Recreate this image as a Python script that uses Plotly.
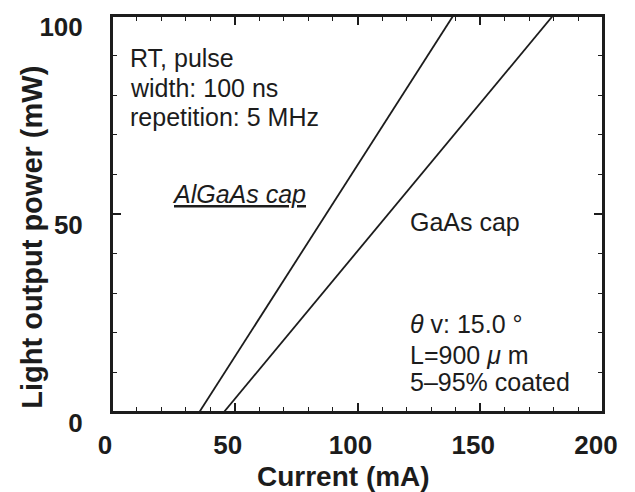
import plotly.graph_objects as go

# ---- data ----
algaas_current = [35.6, 138.9]   # mA
algaas_power = [0, 100]          # mW
gaas_current = [45.6, 179.5]     # mA
gaas_power = [0, 100]            # mW

x_ticks = [0, 50, 100, 150, 200]
y_ticks = [0, 50, 100]

cond_lines = ["RT, pulse", "width: 100 ns", "repetition: 5 MHz"]
device_lines = ["<i>θ</i> v: 15.0 °", "L=900 <i>μ</i> m", "5–95% coated"]

FONT = "Liberation Sans"
INK = "#1c1c1c"

fig = go.Figure()
fig.add_trace(go.Scatter(x=algaas_current, y=algaas_power, mode="lines",
                         line=dict(color=INK, width=1.8), name="AlGaAs cap",
                         showlegend=False))
fig.add_trace(go.Scatter(x=gaas_current, y=gaas_power, mode="lines",
                         line=dict(color=INK, width=1.8), name="GaAs cap",
                         showlegend=False))

ann = []
cond_y = [89.4, 81.9, 74.4]
for t, yy in zip(cond_lines, cond_y):
    ann.append(dict(x=6.5, y=yy, xref="x", yref="y", text=t, showarrow=False,
                    xanchor="left", yanchor="middle",
                    font=dict(family=FONT, size=25, color=INK)))
dev_y = [22.3, 14.5, 7.5]
for t, yy in zip(device_lines, dev_y):
    ann.append(dict(x=120.6, y=yy, xref="x", yref="y", text=t, showarrow=False,
                    xanchor="left", yanchor="middle",
                    font=dict(family=FONT, size=25, color=INK)))
ann.append(dict(x=23.6, y=55, xref="x", yref="y", text="<u><i>AlGaAs cap</i></u>",
                showarrow=False, xanchor="left", yanchor="middle",
                font=dict(family=FONT, size=25, color=INK)))
ann.append(dict(x=120.6, y=48.1, xref="x", yref="y", text="GaAs cap",
                showarrow=False, xanchor="left", yanchor="middle",
                font=dict(family=FONT, size=25, color=INK)))
# axis titles
ann.append(dict(x=-0.163, y=0.4425, xref="paper", yref="paper",
                text="Light output power (mW)", textangle=-90, showarrow=False,
                xanchor="center", yanchor="middle",
                font=dict(family=FONT, size=29, color=INK, weight="bold")))
ann.append(dict(x=0.472, y=-0.1625, xref="paper", yref="paper",
                text="Current (mA)", showarrow=False,
                xanchor="center", yanchor="middle",
                font=dict(family=FONT, size=28, color=INK, weight="bold")))

axis_common = dict(showline=True, linecolor=INK, linewidth=2, mirror="allticks",
                   ticks="inside", ticklen=9, tickwidth=1.5, tickcolor=INK,
                   showgrid=False, zeroline=False,
                   tickfont=dict(family=FONT, size=26, color=INK, weight="bold"))

fig.update_layout(
    width=635, height=492,
    margin=dict(l=112, r=32, t=12, b=80),
    paper_bgcolor="white", plot_bgcolor="white",
    annotations=ann,
    shapes=[dict(type="rect", xref="paper", yref="paper", x0=0, y0=0, x1=1, y1=1,
                 line=dict(color=INK, width=2), fillcolor="rgba(0,0,0,0)", layer="above")],
    xaxis=dict(range=[0, 200], tickvals=x_ticks, ticktext=[str(v) for v in x_ticks],
               minor=dict(dtick=10, tick0=0, ticks="inside", ticklen=5, tickwidth=1.2,
                          tickcolor=INK, showgrid=False),
               ticklabelstandoff=9, ticklabelshift=-7, **axis_common),
    yaxis=dict(range=[0, 100], tickvals=y_ticks, ticktext=[str(v) for v in y_ticks],
               minor=dict(dtick=10, tick0=0, ticks="inside", ticklen=5, tickwidth=1.2,
                          tickcolor=INK, showgrid=False),
               ticklabelstandoff=22, ticklabelshift=11, **axis_common),
)

fig.write_html("out.html", config={"displayModeBar": False},
               post_script="document.body.style.margin='0';document.body.style.overflow='hidden';")
